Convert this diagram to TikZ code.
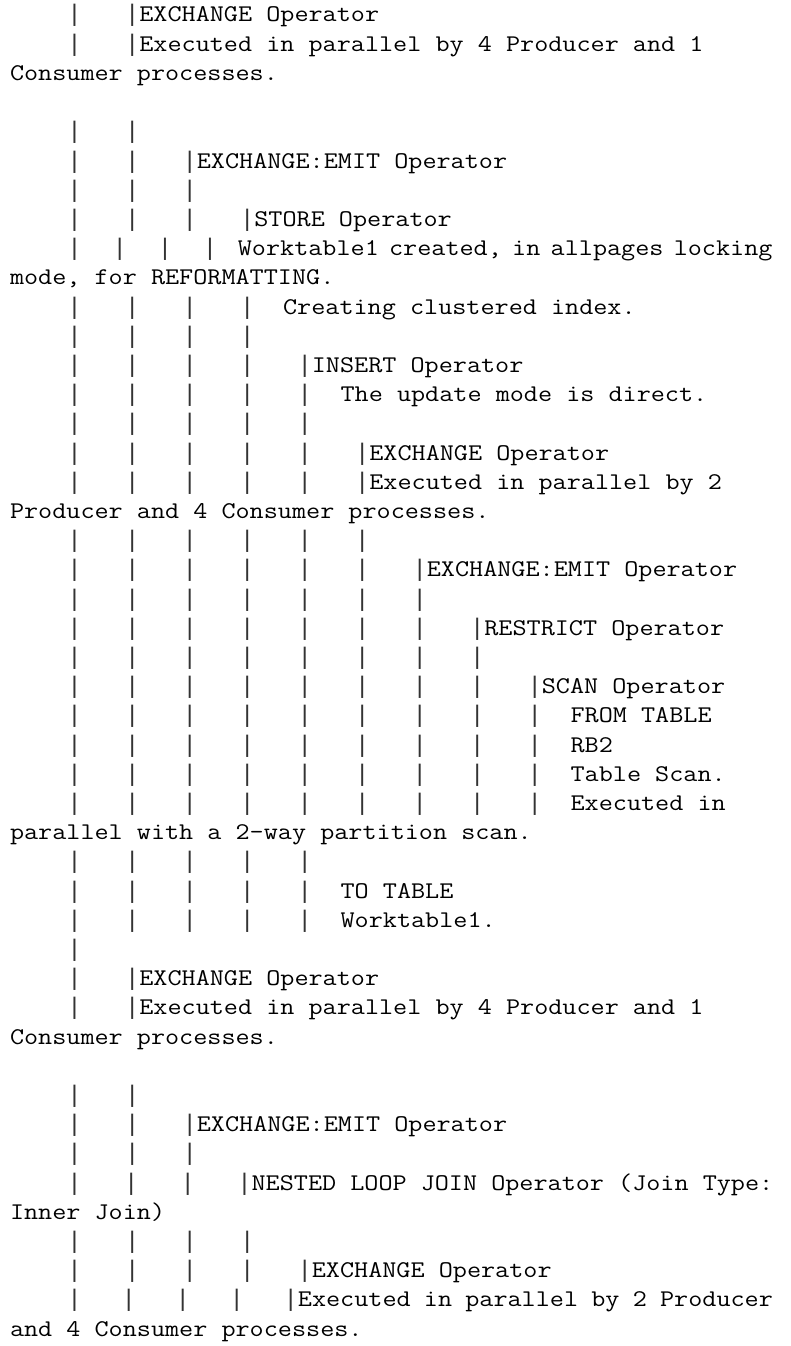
\documentclass[tikz,border=0pt]{standalone}
\usepackage{fontspec}
\newfontfamily\lmono[FakeStretch=1.1429]{Latin Modern Mono}
\newfontfamily\barfont{Liberation Mono}
\newcommand\rowbars[2]{%
  \foreach \i in {1,...,#2}{\node[barglyph] (b#1-\i) at ({74.6875+57.5*(\i-1)}, {22+29.2*#1}) {|};}}
\newcommand\rowcbars[3]{%
  \foreach \i in {1,...,#2}{\node[barglyph] (b#1-\i) at ({74.6875+#3*(\i-1)}, {22+29.2*#1}) {|};}}
\newcommand\rowtxt[3]{%
  \node[txtline] (t#1) at (#2, {22+29.2*#1}) {#3};}
\begin{document}
\begin{tikzpicture}[x=1pt,y=-1pt,
  txtline/.style={anchor=base west, inner sep=0pt, outer sep=0pt, text=black,
    font=\lmono\fontsize{23.96}{29.2}\selectfont},
  barglyph/.style={anchor=base, inner sep=0pt, outer sep=0pt, text=black!80,
    font=\barfont\fontsize{23.96}{29.2}\selectfont}]
\fill[white] (0,0) rectangle (791,1346);
\useasboundingbox (0,0) rectangle (791,1346);
% rows
\rowbars{0}{2}\rowtxt{0}{139.375}{EXCHANGE Operator}
\rowbars{1}{2}\rowtxt{1}{139.375}{Executed in parallel by 4 Producer and 1}
\rowtxt{2}{10}{Consumer processes.}
\rowbars{4}{2}
\rowbars{5}{3}\rowtxt{5}{196.875}{EXCHANGE:EMIT Operator}
\rowbars{6}{3}
\rowbars{7}{4}\rowtxt{7}{254.375}{STORE Operator}
\rowcbars{8}{4}{45.155}\rowtxt{8}{237.86}{\spaceskip=10.26pt\relax Worktable1 created, in allpages locking}
\rowtxt{9}{10}{mode, for REFORMATTING.}
\rowbars{10}{4}\rowtxt{10}{283.125}{Creating clustered index.}
\rowbars{11}{4}
\rowbars{12}{5}\rowtxt{12}{311.875}{INSERT Operator}
\rowbars{13}{5}\rowtxt{13}{340.625}{The update mode is direct.}
\rowbars{14}{5}
\rowbars{15}{6}\rowtxt{15}{369.375}{EXCHANGE Operator}
\rowbars{16}{6}\rowtxt{16}{369.375}{Executed in parallel by 2}
\rowtxt{17}{10}{Producer and 4 Consumer processes.}
\rowbars{18}{6}
\rowbars{19}{7}\rowtxt{19}{426.875}{EXCHANGE:EMIT Operator}
\rowbars{20}{7}
\rowbars{21}{8}\rowtxt{21}{484.375}{RESTRICT Operator}
\rowbars{22}{8}
\rowbars{23}{9}\rowtxt{23}{541.875}{SCAN Operator}
\rowbars{24}{9}\rowtxt{24}{570.625}{FROM TABLE}
\rowbars{25}{9}\rowtxt{25}{570.625}{RB2}
\rowbars{26}{9}\rowtxt{26}{570.625}{Table Scan.}
\rowbars{27}{9}\rowtxt{27}{570.625}{Executed in}
\rowtxt{28}{10}{parallel with a 2-way partition scan.}
\rowbars{29}{5}
\rowbars{30}{5}\rowtxt{30}{340.625}{TO TABLE}
\rowbars{31}{5}\rowtxt{31}{340.625}{Worktable1.}
\rowbars{32}{1}
\rowbars{33}{2}\rowtxt{33}{139.375}{EXCHANGE Operator}
\rowbars{34}{2}\rowtxt{34}{139.375}{Executed in parallel by 4 Producer and 1}
\rowtxt{35}{10}{Consumer processes.}
\rowbars{37}{2}
\rowbars{38}{3}\rowtxt{38}{196.875}{EXCHANGE:EMIT Operator}
\rowbars{39}{3}
\rowcbars{40}{4}{56.585}\rowtxt{40}{251.63}{\spaceskip=14.07pt\relax NESTED LOOP JOIN Operator (Join Type:}
\rowtxt{41}{10}{Inner Join)}
\rowbars{42}{4}
\rowbars{43}{5}\rowtxt{43}{311.875}{EXCHANGE Operator}
\rowcbars{44}{5}{54.005}\rowtxt{44}{297.9}{\spaceskip=13.21pt\relax Executed in parallel by 2 Producer}
\rowtxt{45}{10}{and 4 Consumer processes.}
\end{tikzpicture}
\end{document}
